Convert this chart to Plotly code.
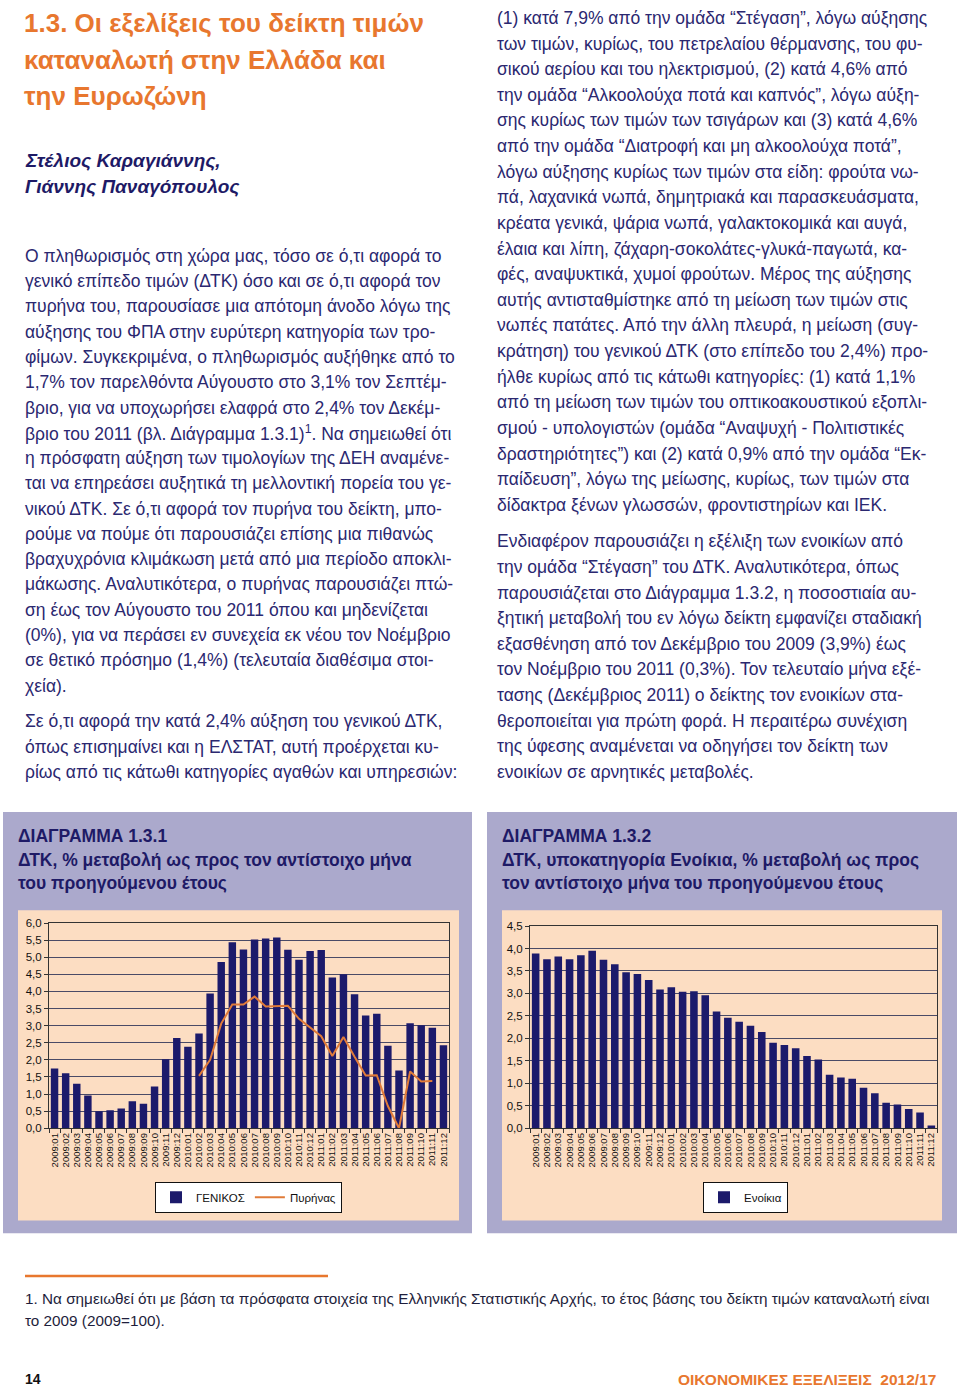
import plotly.graph_objects as go

W, H = 960, 1395

def px(x):
    return x / W

def py(y):
    return 1 - y / H

# ---------------- DATA ----------------
months = [f"{y}:{m:02d}" for y in (2009, 2010, 2011) for m in range(1, 13)]

general_cpi = [1.75, 1.61, 1.30, 0.96, 0.50, 0.53, 0.58, 0.79, 0.72, 1.22, 2.02, 2.64,
               2.38, 2.77, 3.94, 4.86, 5.44, 5.23, 5.52, 5.55, 5.58, 5.22, 4.93, 5.18,
               5.21, 4.41, 4.50, 3.92, 3.30, 3.35, 2.41, 1.69, 3.07, 3.01, 2.94, 2.43]

core_cpi = [None, None, None, None, None, None, None, None, None, None, None, None,
            None, 1.53, 2.00, 3.06, 3.62, 3.62, 3.85, 3.56, 3.58, 3.58, 3.20, 2.94,
            2.69, 2.11, 2.67, 2.09, 1.54, 1.55, 0.65, 0.00, 1.66, 1.37, 1.38, None]

rents = [3.89, 3.76, 3.82, 3.76, 3.85, 3.95, 3.75, 3.65, 3.47, 3.43, 3.30, 3.09,
         3.14, 3.04, 3.05, 2.96, 2.60, 2.46, 2.37, 2.28, 2.14, 1.90, 1.85, 1.78,
         1.61, 1.53, 1.19, 1.13, 1.10, 0.90, 0.78, 0.57, 0.53, 0.43, 0.35, 0.06]

title_lines = ["1.3. Οι εξελίξεις του δείκτη τιμών",
               "καταναλωτή στην Ελλάδα και",
               "την Ευρωζώνη"]
author_lines = ["Στέλιος Καραγιάννης,", "Γιάννης Παναγόπουλος"]

left_col = [
    "Ο πληθωρισμός στη χώρα μας, τόσο σε ό,τι αφορά το",
    "γενικό επίπεδο τιμών (ΔΤΚ) όσο και σε ό,τι αφορά τον",
    "πυρήνα του, παρουσίασε μια απότομη άνοδο λόγω της",
    "αύξησης του ΦΠΑ στην ευρύτερη κατηγορία των τρο-",
    "φίμων. Συγκεκριμένα, ο πληθωρισμός αυξήθηκε από το",
    "1,7% τον παρελθόντα Αύγουστο στο 3,1% τον Σεπτέμ-",
    "βριο, για να υποχωρήσει ελαφρά στο 2,4% τον Δεκέμ-",
    "βριο του 2011 (βλ. Διάγραμμα 1.3.1)<sup>1</sup>. Να σημειωθεί ότι",
    "η πρόσφατη αύξηση των τιμολογίων της ΔΕΗ αναμένε-",
    "ται να επηρεάσει αυξητικά τη μελλοντική πορεία του γε-",
    "νικού ΔΤΚ. Σε ό,τι αφορά τον πυρήνα του δείκτη, μπο-",
    "ρούμε να πούμε ότι παρουσιάζει επίσης μια πιθανώς",
    "βραχυχρόνια κλιμάκωση μετά από μια περίοδο αποκλι-",
    "μάκωσης. Αναλυτικότερα, ο πυρήνας παρουσιάζει πτώ-",
    "ση έως τον Αύγουστο του 2011 όπου και μηδενίζεται",
    "(0%), για να περάσει εν συνεχεία εκ νέου τον Νοέμβριο",
    "σε θετικό πρόσημο (1,4%) (τελευταία διαθέσιμα στοι-",
    "χεία).",
    "",
    "Σε ό,τι αφορά την κατά 2,4% αύξηση του γενικού ΔΤΚ,",
    "όπως επισημαίνει και η ΕΛΣΤΑΤ, αυτή προέρχεται κυ-",
    "ρίως από τις κάτωθι κατηγορίες αγαθών και υπηρεσιών:",
]

right_col = [
    "(1) κατά 7,9% από την ομάδα “Στέγαση”, λόγω αύξησης",
    "των τιμών, κυρίως, του πετρελαίου θέρμανσης, του φυ-",
    "σικού αερίου και του ηλεκτρισμού, (2) κατά 4,6% από",
    "την ομάδα “Αλκοολούχα ποτά και καπνός”, λόγω αύξη-",
    "σης κυρίως των τιμών των τσιγάρων και (3) κατά 4,6%",
    "από την ομάδα “Διατροφή και μη αλκοολούχα ποτά”,",
    "λόγω αύξησης κυρίως των τιμών στα είδη: φρούτα νω-",
    "πά, λαχανικά νωπά, δημητριακά και παρασκευάσματα,",
    "κρέατα γενικά, ψάρια νωπά, γαλακτοκομικά και αυγά,",
    "έλαια και λίπη, ζάχαρη-σοκολάτες-γλυκά-παγωτά, κα-",
    "φές, αναψυκτικά, χυμοί φρούτων. Μέρος της αύξησης",
    "αυτής αντισταθμίστηκε από τη μείωση των τιμών στις",
    "νωπές πατάτες. Από την άλλη πλευρά, η μείωση (συγ-",
    "κράτηση) του γενικού ΔΤΚ (στο επίπεδο του 2,4%) προ-",
    "ήλθε κυρίως από τις κάτωθι κατηγορίες: (1) κατά 1,1%",
    "από τη μείωση των τιμών του οπτικοακουστικού εξοπλι-",
    "σμού - υπολογιστών (ομάδα “Αναψυχή - Πολιτιστικές",
    "δραστηριότητες”) και (2) κατά 0,9% από την ομάδα “Εκ-",
    "παίδευση”, λόγω της μείωσης, κυρίως, των τιμών στα",
    "δίδακτρα ξένων γλωσσών, φροντιστηρίων και ΙΕΚ.",
    "",
    "Ενδιαφέρον παρουσιάζει η εξέλιξη των ενοικίων από",
    "την ομάδα “Στέγαση” του ΔΤΚ. Αναλυτικότερα, όπως",
    "παρουσιάζεται στο Διάγραμμα 1.3.2, η ποσοστιαία αυ-",
    "ξητική μεταβολή του εν λόγω δείκτη εμφανίζει σταδιακή",
    "εξασθένηση από τον Δεκέμβριο του 2009 (3,9%) έως",
    "τον Νοέμβριο του 2011 (0,3%). Τον τελευταίο μήνα εξέ-",
    "τασης (Δεκέμβριος 2011) ο δείκτης τον ενοικίων στα-",
    "θεροποιείται για πρώτη φορά. Η περαιτέρω συνέχιση",
    "της ύφεσης αναμένεται να οδηγήσει τον δείκτη των",
    "ενοικίων σε αρνητικές μεταβολές.",
]

chart1_heading = ["ΔΙΑΓΡΑΜΜΑ 1.3.1",
                  "ΔΤΚ, % μεταβολή ως προς τον αντίστοιχο μήνα",
                  "του προηγούμενου έτους"]
chart2_heading = ["ΔΙΑΓΡΑΜΜΑ 1.3.2",
                  "ΔΤΚ, υποκατηγορία Ενοίκια, % μεταβολή ως προς",
                  "τον αντίστοιχο μήνα του προηγούμενου έτους"]

footnote_lines = ["1. Να σημειωθεί ότι με βάση τα πρόσφατα στοιχεία της Ελληνικής Στατιστικής Αρχής, το έτος βάσης του δείκτη τιμών καταναλωτή είναι",
                  "το 2009 (2009=100)."]
page_number = "14"
journal = "ΟΙΚΟΝΟΜΙΚΕΣ ΕΞΕΛΙΞΕΙΣ  2012/17"

# ---------------- STYLE ----------------
ORANGE = "#E8772E"
NAVY_TXT = "#2B2870"
NAVY_HEAD = "#1E1A66"
BAR = "#1C1A6B"
LINE = "#E07B39"
LAV = "#ABA9CC"
PEACH = "#FCDDC2"
GRID = "#4A4A66"
SANS = "Liberation Sans, Arial, Helvetica, sans-serif"

fig = go.Figure()

fig.add_trace(go.Bar(x=months, y=general_cpi, name="ΓΕΝΙΚΟΣ", marker=dict(color=BAR, line=dict(width=0)),
                     xaxis="x", yaxis="y", legend="legend"))
fig.add_trace(go.Scatter(x=months, y=core_cpi, name="Πυρήνας", mode="lines",
                         line=dict(color=LINE, width=2), xaxis="x", yaxis="y", legend="legend"))
fig.add_trace(go.Bar(x=months, y=rents, name="Ενοίκια", marker=dict(color=BAR, line=dict(width=0)),
                     xaxis="x2", yaxis="y2", legend="legend2"))

shapes = []
for (x0, x1) in [(3, 472), (487, 957)]:
    shapes.append(dict(type="rect", xref="paper", yref="paper", x0=px(x0), x1=px(x1), y0=py(1238), y1=py(813),
                       fillcolor=LAV, line=dict(width=0), layer="below"))
for (x0, x1) in [(18, 459), (502, 942)]:
    shapes.append(dict(type="rect", xref="paper", yref="paper", x0=px(x0), x1=px(x1), y0=py(1225), y1=py(912),
                       fillcolor=PEACH, line=dict(width=0), layer="below"))
shapes.append(dict(type="line", xref="paper", yref="paper", x0=px(25), x1=px(328), y0=py(1281), y1=py(1281),
                   line=dict(color=ORANGE, width=2.5)))

ann = []

def text(x, y, s, size, color, family=SANS, anchor="left"):
    ann.append(dict(xref="paper", yref="paper", x=px(x), y=py(y), xanchor=anchor, yanchor="middle",
                    text=s, showarrow=False, align=anchor,
                    font=dict(size=size, color=color, family=family)))

for i, s in enumerate(title_lines):
    text(22, 17 + i * 37, f"<b>{s}</b>", 26, ORANGE)
for i, s in enumerate(author_lines):
    text(23, 156 + i * 26, f"<b><i>{s}</i></b>", 19, NAVY_HEAD)

y = 252
for s in left_col:
    if not s:
        y += 10.5
        continue
    text(23, y, s, 17.5, NAVY_TXT)
    y += 25.5

y = 12
for s in right_col:
    if not s:
        y += 11
        continue
    text(495, y, s, 17.5, NAVY_TXT)
    y += 25.85

for i, s in enumerate(chart1_heading):
    text(16, 837 + i * 24, f"<b>{s}</b>", 17.5, NAVY_HEAD)
for i, s in enumerate(chart2_heading):
    text(500, 837 + i * 24, f"<b>{s}</b>", 17.5, NAVY_HEAD)

for i, s in enumerate(footnote_lines):
    text(23, 1304 + i * 22, s, 15.3, "#1E1E3C")
text(23, 1385, f"<b>{page_number}</b>", 14, "#111111")
text(938, 1385, f"<b>{journal}</b>", 15.5, ORANGE, anchor="right")

axis_common = dict(showline=True, linecolor="#333333", mirror=True, linewidth=1)
xcommon = dict(type="category", tickangle=-90, tickfont=dict(size=9.5, color="#111111", family=SANS),
               ticks="outside", ticklen=4, tickcolor="#333333", tickson="boundaries", showgrid=False,
               dtick=1, tickmode="linear", **axis_common)
ycommon = dict(tickformat=".1f", tickfont=dict(size=11.5, color="#111111", family=SANS),
               ticks="outside", ticklen=4, tickcolor="#333333", showgrid=True, gridcolor=GRID, gridwidth=1,
               zeroline=False, dtick=0.5, **axis_common)

fig.update_layout(
    width=W, height=H, autosize=False,
    margin=dict(l=0, r=0, t=0, b=0),
    paper_bgcolor="white", plot_bgcolor="white",
    separators=",.",
    bargap=0.33,
    showlegend=True,
    xaxis=dict(domain=[px(49), px(449)], anchor="y", **xcommon),
    yaxis=dict(domain=[py(1132), py(925)], anchor="x", range=[0, 6.0], **ycommon),
    xaxis2=dict(domain=[px(530), px(937)], anchor="y2", **xcommon),
    yaxis2=dict(domain=[py(1132), py(928)], anchor="x2", range=[0, 4.5], **ycommon),
    legend=dict(orientation="h", x=px(155), y=py(1186), xanchor="left", yanchor="top",
                bgcolor="white", bordercolor="#111111", borderwidth=1,
                font=dict(size=11.5, color="#111111", family=SANS),
                itemwidth=30, tracegroupgap=0),
    legend2=dict(orientation="h", x=px(703), y=py(1186), xanchor="left", yanchor="top",
                 bgcolor="white", bordercolor="#111111", borderwidth=1,
                 font=dict(size=11.5, color="#111111", family=SANS), itemwidth=30),
    shapes=shapes,
    annotations=ann,
)

fig.write_html("out.html", config={"displayModeBar": False},
               post_script="document.body.style.margin='0';document.body.style.padding='0';")
